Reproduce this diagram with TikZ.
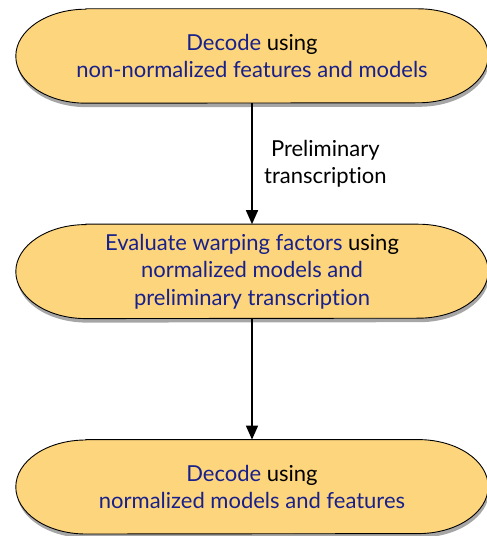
\documentclass[tikz,border=0pt]{standalone}
\usepackage{fontspec}
\setmainfont[Ligatures=NoCommon]{Lato}
\usetikzlibrary{positioning,calc,arrows.meta,shadows,backgrounds}
\definecolor{pillfill}{RGB}{253,213,124}
\definecolor{stepblue}{RGB}{24,32,140}
\tikzstyle{pill}=[minimum width=472pt,minimum height=94pt,align=center,text=stepblue,font=\fontsize{22}{27.5}\selectfont]
\tikzstyle{flow}=[-{Triangle[length=14pt,width=12pt]},line width=1.6pt]

\begin{document}
\begin{tikzpicture}[x=1pt,y=1pt,node distance=121pt]
    \useasboundingbox (0,0) rectangle (487,536);

          \node[pill] (dec_0) at (252,480) {Decode \textcolor{black}{using}\\non-normalized features and models};
          \node[pill] (warp) [below=of dec_0] {Evaluate warping factors \textcolor{black}{using}\\normalized models and\\preliminary transcription};
          \node[pill] (dec_1) [below=of warp] {Decode \textcolor{black}{using}\\normalized models and features};

          % box outlines with elliptic ends
          \begin{scope}[on background layer]
            \foreach \n in {dec_0,warp,dec_1}
              \draw[fill=pillfill,line width=0.9pt,drop shadow={shadow xshift=1pt,shadow yshift=-4pt,fill=black,opacity=0.35}]
                ($(\n.north west)+(70,0)$) -- ($(\n.north east)+(-70,0)$)
                arc[start angle=90,end angle=-90,x radius=70,y radius=47]
                -- ($(\n.south west)+(70,0)$)
                arc[start angle=270,end angle=90,x radius=70,y radius=47] -- cycle;
          \end{scope}

          \draw[flow] (dec_0) -- node[right=8pt,align=center,font=\fontsize{22}{27.5}\selectfont] {Preliminary\\transcription} (warp);
          \draw[flow] (warp) -- (dec_1);
\end{tikzpicture}
\end{document}
